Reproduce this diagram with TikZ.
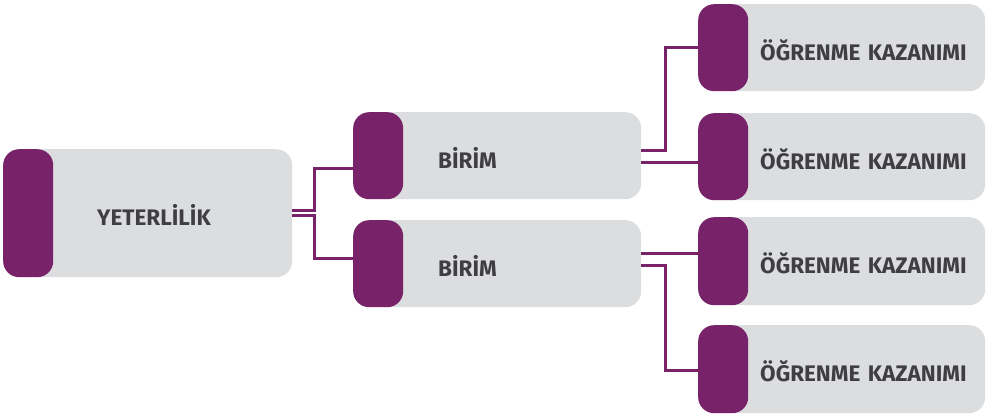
\documentclass[tikz,border=0pt]{standalone}
\usepackage{fontspec}
\setmainfont{Fira Sans}
\definecolor{cardpurple}{HTML}{78226A}
\definecolor{cardgray}{HTML}{DCDDDF}
\definecolor{cardtext}{HTML}{3F3F41}

\begin{document}
\begin{tikzpicture}[x = 1pt, y = -1pt,
    card/.style n args = {3}{anchor = north west, fill = cardgray, rounded corners = 16pt,
        text width = #1, minimum height = #2, inner xsep = 0pt, align = left,
        text height = 25pt, text depth = 0pt,
        text = cardtext, font = \fontsize{22.5}{26}\selectfont\bfseries,
        execute at begin node = {\hspace*{#3}},
        path picture = {\fill[cardpurple] (path picture bounding box.south west)
            rectangle ([xshift = 50pt]path picture bounding box.north west);}},
    link/.style = {draw = cardpurple, line width = 3pt}]
    \useasboundingbox (0,0) rectangle (989,413);
    % boxes
    \node[card = {289pt}{128pt}{94pt}] (yet) at (3,149) {YETERLİLİK};
    \node[card = {288pt}{87pt}{85pt}] (birA) at (353,112) {BİRİM};
    \node[card = {288pt}{87pt}{85pt}] (birB) at (353,220) {BİRİM};
    \node[card = {287pt}{87pt}{62pt}] (kazA) at (698,4) {ÖĞRENME KAZANIMI};
    \node[card = {287pt}{87pt}{62pt}] (kazB) at (698,113) {ÖĞRENME KAZANIMI};
    \node[card = {287pt}{88pt}{62pt}] (kazC) at (698,217) {ÖĞRENME KAZANIMI};
    \node[card = {287pt}{88pt}{62pt}] (kazD) at (698,325) {ÖĞRENME KAZANIMI};
    % connectors
    \draw[link] ([yshift = 3pt]yet.east) -| ([xshift = -39pt, yshift = -13pt]birA.west) -- ([yshift = -13pt]birA.west);
    \draw[link] ([yshift = -2pt]yet.east) -| ([xshift = -39pt, yshift = 5pt]birB.west) -- ([yshift = 5pt]birB.west);
    \draw[link] ([yshift = 5.5pt]birA.east) -| ([xshift = -33pt]kazA.west) -- (kazA.west);
    \draw[link] ([yshift = -6.5pt]birA.east) -- ([yshift = -6.5pt]birA.east -| kazB.west);
    \draw[link] ([yshift = 10.5pt]birB.east) -- ([yshift = 10.5pt]birB.east -| kazC.west);
    \draw[link] ([yshift = -1.5pt]birB.east) -| ([xshift = -33pt, yshift = -1.5pt]kazD.west) -- ([yshift = -1.5pt]kazD.west);
\end{tikzpicture}
\end{document}
